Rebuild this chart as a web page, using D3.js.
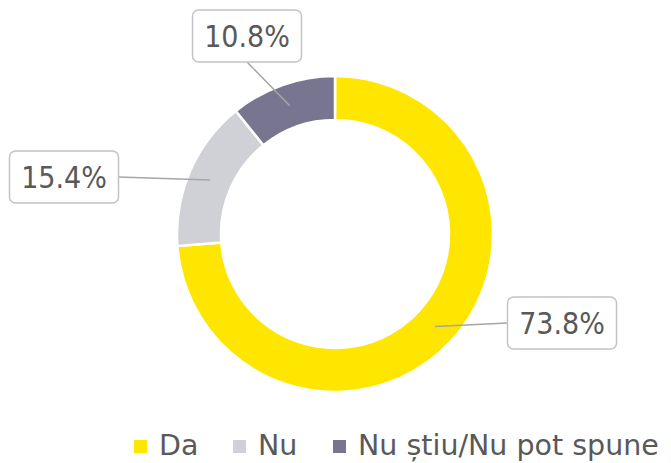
<!DOCTYPE html>
<html>
<head>
<meta charset="utf-8">
<script src="https://cdn.jsdelivr.net/npm/d3@7"></script>
<style>
  body { margin: 0; background: #fff; }
  svg { display: block; }
</style>
</head>
<body>
<svg id="chart"></svg>
<script>
const categories = ["Da", "Nu", "Nu știu/Nu pot spune"];
const values = [73.8, 15.4, 10.8];
const valueLabels = ["73.8%", "15.4%", "10.8%"];
const colors = ["#FFE600", "#D0D0D7", "#77758F"];

const width = 671;
const height = 463;
const cx = 335, cy = 234;
const outerR = 158, innerR = 114;

// where each label box sits (center)
const boxPos = [[562, 323], [64, 177], [247, 36]];
const boxW = 109, boxH = 52;

const svg = d3.select("#chart")
    .attr("width", width)
    .attr("height", height);

const data = categories.map((c, i) => ({ cat: c, value: values[i], label: valueLabels[i], color: colors[i] }));

const pie = d3.pie()
    .value(d => d.value)
    .sort(null);

const arc = d3.arc()
    .innerRadius(innerR)
    .outerRadius(outerR);

const midArc = d3.arc()
    .innerRadius(136)
    .outerRadius(136);

const arcs = pie(data);

const g = svg.append("g")
    .attr("transform", `translate(${cx},${cy})`);

g.selectAll("path")
    .data(arcs)
    .enter()
    .append("path")
    .attr("d", arc)
    .attr("fill", d => d.data.color)
    .attr("stroke", "#fff")
    .attr("stroke-width", 2.5);

// leader lines
svg.append("g")
    .selectAll("line")
    .data(arcs)
    .enter()
    .append("line")
    .attr("x1", d => cx + midArc.centroid(d)[0])
    .attr("y1", d => cy + midArc.centroid(d)[1])
    .attr("x2", (d, i) => {
        const [bx] = boxPos[i];
        if (i === 0) return bx - boxW / 2;
        if (i === 1) return bx + boxW / 2;
        return bx;
    })
    .attr("y2", (d, i) => {
        const [, by] = boxPos[i];
        if (i === 2) return by + boxH / 2;
        return by;
    })
    .attr("stroke", "#A6A6A6")
    .attr("stroke-width", 1.5);

// label boxes
const labels = svg.append("g")
    .selectAll("g")
    .data(arcs)
    .enter()
    .append("g")
    .attr("transform", (d, i) => `translate(${boxPos[i][0]},${boxPos[i][1]})`);

labels.append("rect")
    .attr("x", -boxW / 2)
    .attr("y", -boxH / 2)
    .attr("width", boxW)
    .attr("height", boxH)
    .attr("rx", 6)
    .attr("fill", "#fff")
    .attr("stroke", "#C4C4C4")
    .attr("stroke-width", 1.5);

labels.append("text")
    .attr("text-anchor", "middle")
    .attr("dy", "0.36em")
    .attr("font-family", "DejaVu Sans Condensed, DejaVu Sans, sans-serif")
    .attr("font-size", 30)
    .attr("fill", "#595959")
    .text(d => d.data.label);

// legend
const legendX = [134, 233, 333];
const legend = svg.append("g")
    .selectAll("g")
    .data(data)
    .enter()
    .append("g")
    .attr("transform", (d, i) => `translate(${legendX[i]},440)`);

legend.append("rect")
    .attr("width", 13)
    .attr("height", 13)
    .attr("fill", d => d.color);

legend.append("text")
    .attr("x", 25)
    .attr("y", 15)
    .attr("font-family", "DejaVu Sans, sans-serif")
    .attr("font-size", 28.5)
    .attr("fill", "#595959")
    .text(d => d.cat);
</script>
</body>
</html>
